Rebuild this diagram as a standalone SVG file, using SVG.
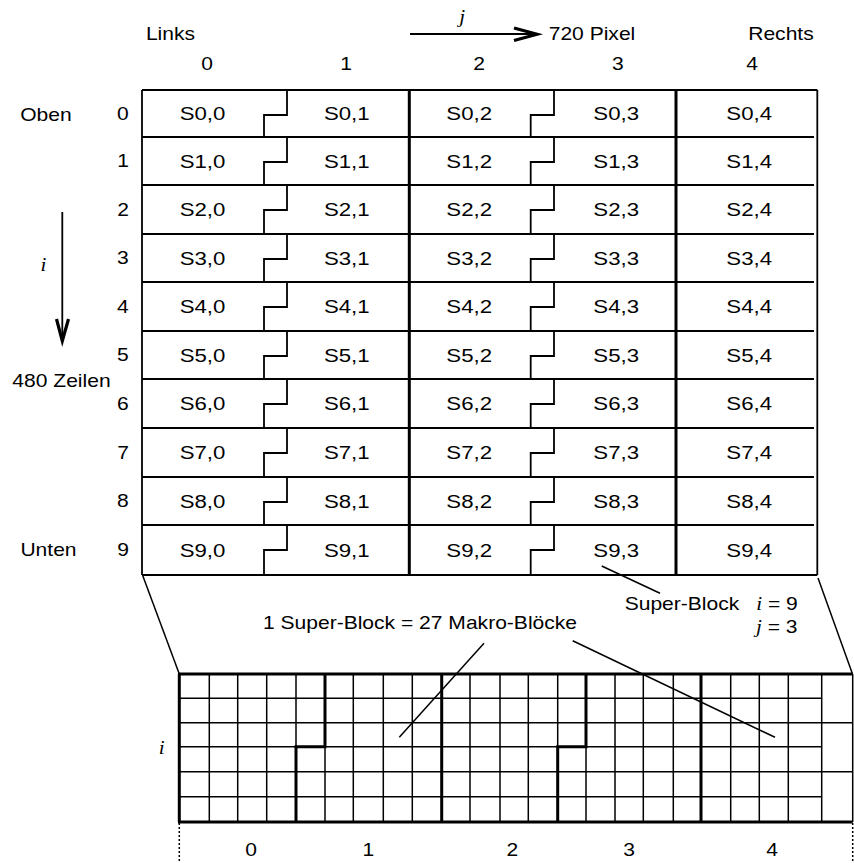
<svg xmlns="http://www.w3.org/2000/svg" width="854" height="863" viewBox="0 0 854 863">
<style>
.t{font-family:"Liberation Sans",Arial,sans-serif;font-size:18px;text-anchor:middle;fill:#000;transform-box:fill-box;transform-origin:center;transform:scaleX(1.17)}
.c{font-size:19px}
.it{font-family:"Liberation Serif","Times New Roman",serif;font-style:italic}
.ln{stroke:#000;fill:none;stroke-width:1.8}
.tk{stroke:#000;fill:none;stroke-width:3}
.tn{stroke:#000;fill:none;stroke-width:1.5}
.ar{stroke:#000;fill:none;stroke-width:3.2;stroke-linejoin:miter;stroke-miterlimit:10}
</style>
<rect width="854" height="863" fill="#fff"/>

<g id="headers">
<text class="t" x="170.5" y="40">Links</text>
<text class="t" x="592" y="40">720 Pixel</text>
<text class="t" x="781" y="40">Rechts</text>
<text class="t" x="207" y="70">0</text>
<text class="t" x="346" y="70">1</text>
<text class="t" x="479" y="70">2</text>
<text class="t" x="618" y="70">3</text>
<text class="t" x="752" y="70">4</text>
<text class="t it" x="462" y="23">j</text>
<text class="t" x="46" y="121">Oben</text>
<text class="t" x="48.5" y="556">Unten</text>
<text class="t" x="61.5" y="387">480 Zeilen</text>
<text class="t it" x="43.5" y="271">i</text>
</g>

<g id="row-labels">
<text class="t" x="123" y="120">0</text>
<text class="t" x="123" y="167.5">1</text>
<text class="t" x="123" y="216">2</text>
<text class="t" x="123" y="264.5">3</text>
<text class="t" x="123" y="313">4</text>
<text class="t" x="123" y="361.5">5</text>
<text class="t" x="123" y="410">6</text>
<text class="t" x="123" y="459">7</text>
<text class="t" x="123" y="507.5">8</text>
<text class="t" x="123" y="556.5">9</text>
</g>

<g id="top-grid">
<path class="ln" d="M142,90H817.3M142,575H817.3"/>
<path class="ln" d="M142,137H814M142,185H814M142,234H814M142,282H814M142,331H814M142,379H814M142,428H814M142,477H814M142,525H814"/>
<path class="ln" d="M142,90V575M817.3,90V575"/>
<path class="tk" d="M409.3,90V575M676,90V575"/>
<path class="ln" d="M287,90V115H264V137M287,137V162H264V185M287,185V210H264V234M287,234V259H264V282M287,282V307H264V331M287,331V356H264V379M287,379V404H264V428M287,428V453H264V477M287,477V502H264V525M287,525V550H264V575"/>
<path class="ln" d="M554,90V115H530.7V137M554,137V162H530.7V185M554,185V210H530.7V234M554,234V259H530.7V282M554,282V307H530.7V331M554,331V356H530.7V379M554,379V404H530.7V428M554,428V453H530.7V477M554,477V502H530.7V525M554,525V550H530.7V575"/>
</g>

<g id="S0"><text class="t c" x="202.5" y="120.5">S0,0</text><text class="t c" x="346.8" y="120.5">S0,1</text><text class="t c" x="469.2" y="120.5">S0,2</text><text class="t c" x="616.2" y="120.5">S0,3</text><text class="t c" x="749.2" y="120.5">S0,4</text></g>
<g id="S1"><text class="t c" x="202.5" y="168">S1,0</text><text class="t c" x="346.8" y="168">S1,1</text><text class="t c" x="469.2" y="168">S1,2</text><text class="t c" x="616.2" y="168">S1,3</text><text class="t c" x="749.2" y="168">S1,4</text></g>
<g id="S2"><text class="t c" x="202.5" y="216.5">S2,0</text><text class="t c" x="346.8" y="216.5">S2,1</text><text class="t c" x="469.2" y="216.5">S2,2</text><text class="t c" x="616.2" y="216.5">S2,3</text><text class="t c" x="749.2" y="216.5">S2,4</text></g>
<g id="S3"><text class="t c" x="202.5" y="265">S3,0</text><text class="t c" x="346.8" y="265">S3,1</text><text class="t c" x="469.2" y="265">S3,2</text><text class="t c" x="616.2" y="265">S3,3</text><text class="t c" x="749.2" y="265">S3,4</text></g>
<g id="S4"><text class="t c" x="202.5" y="313.5">S4,0</text><text class="t c" x="346.8" y="313.5">S4,1</text><text class="t c" x="469.2" y="313.5">S4,2</text><text class="t c" x="616.2" y="313.5">S4,3</text><text class="t c" x="749.2" y="313.5">S4,4</text></g>
<g id="S5"><text class="t c" x="202.5" y="362">S5,0</text><text class="t c" x="346.8" y="362">S5,1</text><text class="t c" x="469.2" y="362">S5,2</text><text class="t c" x="616.2" y="362">S5,3</text><text class="t c" x="749.2" y="362">S5,4</text></g>
<g id="S6"><text class="t c" x="202.5" y="410.5">S6,0</text><text class="t c" x="346.8" y="410.5">S6,1</text><text class="t c" x="469.2" y="410.5">S6,2</text><text class="t c" x="616.2" y="410.5">S6,3</text><text class="t c" x="749.2" y="410.5">S6,4</text></g>
<g id="S7"><text class="t c" x="202.5" y="459.5">S7,0</text><text class="t c" x="346.8" y="459.5">S7,1</text><text class="t c" x="469.2" y="459.5">S7,2</text><text class="t c" x="616.2" y="459.5">S7,3</text><text class="t c" x="749.2" y="459.5">S7,4</text></g>
<g id="S8"><text class="t c" x="202.5" y="508">S8,0</text><text class="t c" x="346.8" y="508">S8,1</text><text class="t c" x="469.2" y="508">S8,2</text><text class="t c" x="616.2" y="508">S8,3</text><text class="t c" x="749.2" y="508">S8,4</text></g>
<g id="S9"><text class="t c" x="202.5" y="557">S9,0</text><text class="t c" x="346.8" y="557">S9,1</text><text class="t c" x="469.2" y="557">S9,2</text><text class="t c" x="616.2" y="557">S9,3</text><text class="t c" x="749.2" y="557">S9,4</text></g>

<g id="annotations">
<text class="t" x="682" y="610">Super-Block</text>
<text class="t" x="777" y="610"><tspan class="it">i</tspan> = 9</text>
<text class="t" x="776.5" y="633"><tspan class="it">j</tspan> = 3</text>
<text class="t" x="420" y="629">1 Super-Block = 27 Makro-Blöcke</text>
</g>

<g id="macro-grid">
<path class="tn" d="M209.3,674V822M237.7,674V822M266.7,674V822M296,674V822M325,674V822M353.3,674V822M383.3,674V822M412.3,674V822M470,674V822M500,674V822M528.3,674V822M557.7,674V822M586,674V822M615,674V822M643.3,674V822M673.3,674V822M730.7,674V822M759.3,674V822M788.3,674V822M821.7,674V822M852.7,674V822"/>
<path class="tn" d="M179.3,698.3H821.7M179.3,722.7H852.7M179.3,746.7H821.7M179.3,771.7H852.7M179.3,796.7H821.7"/>
<path class="tk" d="M178,674H852.7M178,822H852.7M179.3,674V822"/>
<path class="tk" d="M325,674V746.7H296V822M441.7,674V822M586,674V746.7H557.7V822M701,674V822"/>
<text class="t it" x="161.7" y="754">i</text>
<text class="t" x="251" y="856.5">0</text>
<text class="t" x="368.3" y="856.5">1</text>
<text class="t" x="512.3" y="856.5">2</text>
<text class="t" x="629" y="856.5">3</text>
<text class="t" x="772" y="856.5">4</text>
<path d="M179.3,823V863M852.7,823V863" stroke="#000" stroke-width="1.5" stroke-dasharray="2,2" fill="none"/>
</g>

<g id="connectors">
<path class="ln" d="M410,34H535"/>
<path class="ar" d="M514,28L537,34.2L514,40.5"/>
<path class="ln" d="M62.3,212V340"/>
<path class="ar" d="M56.5,319L62.3,341L68.5,319"/>
<path class="tn" d="M142.5,575L179.3,674"/>
<path class="tn" d="M818,578L852.5,674"/>
<path class="tn" d="M601.7,566L660,593.3"/>
<path class="tn" d="M484,643.3L399.3,737.3"/>
<path class="tn" d="M572.7,640.7L775,737.3"/>
</g>
</svg>
